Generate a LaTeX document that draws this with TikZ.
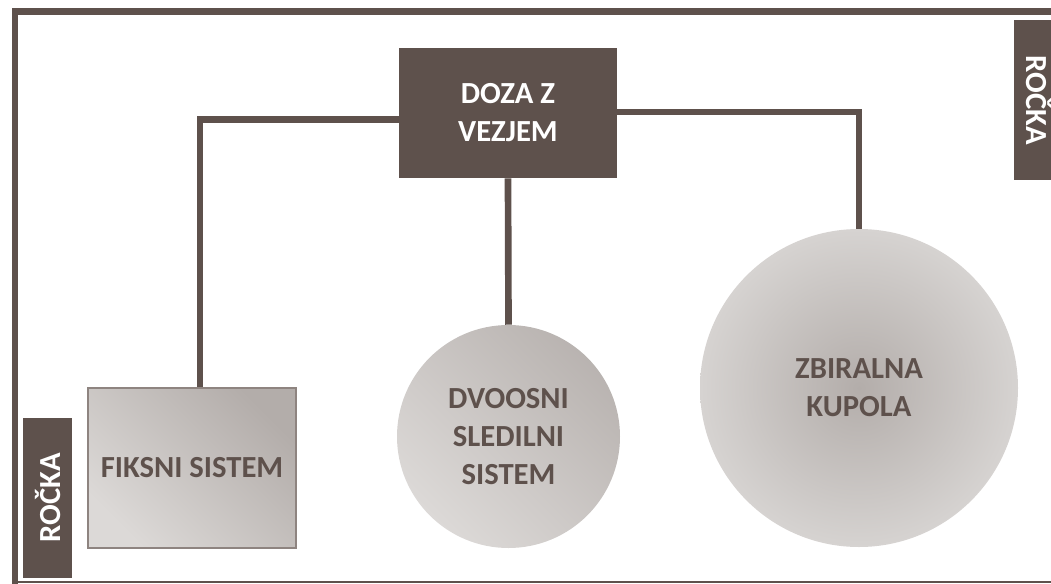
\documentclass[tikz,border=0pt]{standalone}
\usepackage{fontspec}
\setmainfont{Carlito}
\begin{document}
\begin{tikzpicture}[x=0.75pt,y=-0.75pt,
  every node/.style={font=\fontsize{23}{28.5}\selectfont\bfseries, align=center, inner sep=0pt},
  dark/.style={fill=brownD, text=white},
  conn/.style={draw=brownD, line width=5pt, line join=miter},
  frameline/.style={draw=brownD},
  greytext/.style={text=brownD}
]
\definecolor{brownD}{HTML}{5E514C}
\definecolor{lightG}{HTML}{DCD9D7}
\definecolor{darkG}{HTML}{B3ADAA}
\definecolor{edgeG}{HTML}{D6D3D1}
\definecolor{boxborder}{HTML}{8E8480}
\useasboundingbox (0,0) rectangle (1051,583);
\clip (0,0) rectangle (1051,583);
% frame
\draw[frameline, line width=4.8pt, line join=miter] (15,600) -- (15,11.5) -- (1070,11.5);
\draw[frameline, line width=1.6pt] (13,581.7) -- (1070,581.7);
% nodes
\node[dark, minimum width=163.5pt, minimum height=97.5pt] (doza) at (508,113) {DOZA Z\\VEZJEM};
\node[draw=boxborder, line width=0.8pt, greytext, top color=darkG, bottom color=lightG, shading angle=-45,
      minimum width=156pt, minimum height=120pt] (fix) at (192,468) {FIKSNI SISTEM};
\node[circle, greytext, top color=darkG!92!white, bottom color=lightG, shading angle=-45,
      minimum size=167.25pt] (dvo) at (508.5,436.5) {DVOOSNI\\SLEDILNI\\SISTEM};
\node[circle, greytext, inner color=darkG, outer color=edgeG,
      minimum size=238.5pt] (kup) at (859,388) {ZBIRALNA\\KUPOLA};
\node[dark, rotate=90, minimum width=120pt, minimum height=36.75pt] (r1) at (47.5,498) {ROČKA};
\node[dark, rotate=-90, minimum width=120pt, minimum height=36.75pt] (r2) at (1038.5,100) {ROČKA};
% connectors
\draw[conn] (doza.west |- 0,119.5) -| (fix.north -| 200,0);
\draw[conn] (doza.east |- 0,112) -| (kup.north);
\draw[conn] (doza.south) -- (dvo.north);
\end{tikzpicture}
\end{document}
